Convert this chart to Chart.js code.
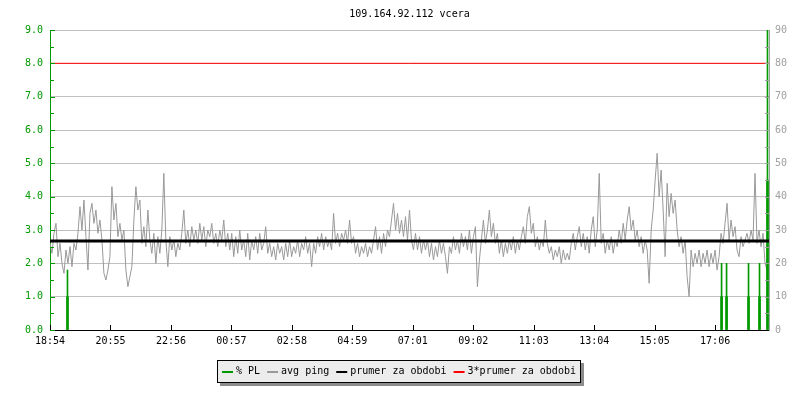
<!DOCTYPE html>
<html>
<head>
<meta charset="utf-8">
<script src="https://cdn.jsdelivr.net/npm/chart.js@4/dist/chart.umd.min.js"></script>
<style>
  html, body { margin: 0; padding: 0; background: #fff; }
</style>
</head>
<body>
<canvas id="graf" width="800" height="400"></canvas>
<script>
// ---------- data
var titleText = '109.164.92.112 vcera';
var tickLabels = ['18:54','20:55','22:56','00:57','02:58','04:59','07:01','09:02','11:03','13:04','15:05','17:06'];
var tickStepMin = 121.1;      // minutes between time labels
var sampleStepMin = 4;        // minutes between ping samples
var spanMin = 1440;

// avg ping, one value every 4 minutes from 18:54
var pingAvg = [
  2.6,2.3,2.9,3.2,2.2,2.6,2.0,1.7,2.4,2.0, 2.5,1.9,2.6,2.4,2.9,3.7,3.0,3.9,2.8,1.8,
  3.5,3.8,3.2,3.6,2.9,3.3,2.7,1.7,1.5,1.8, 2.2,4.3,3.3,3.8,2.8,3.2,2.7,3.0,1.8,1.3,
  1.6,1.9,3.3,4.3,3.6,3.9,2.6,3.1,2.5,3.6, 2.7,2.3,2.9,2.0,2.8,2.3,3.0,4.7,2.7,1.9,
  2.8,2.4,2.7,2.2,2.6,2.4,2.9,3.6,2.6,3.0, 2.5,3.1,2.7,3.0,2.6,3.2,2.7,3.1,2.5,3.0,
  2.8,3.2,2.6,2.9,2.5,3.0,2.7,3.3,2.5,2.9, 2.4,2.9,2.2,2.8,2.3,3.0,2.4,2.7,2.2,2.9,
  2.1,2.7,2.4,2.8,2.3,2.9,2.4,2.6,3.1,2.3, 2.6,2.2,2.5,2.1,2.6,2.3,2.5,2.1,2.6,2.2,
  2.7,2.2,2.5,2.3,2.7,2.2,2.6,2.4,2.8,2.3, 2.6,1.9,2.6,2.3,2.8,2.5,2.9,2.4,2.8,2.5,
  2.7,2.4,3.5,2.6,2.9,2.5,2.9,2.7,3.0,2.6, 3.3,2.6,2.8,2.3,2.6,2.2,2.5,2.3,2.6,2.2,
  2.5,2.3,2.7,3.1,2.4,2.8,2.3,2.9,2.5,3.0, 2.8,3.3,3.8,3.0,3.5,2.9,3.3,2.8,3.4,2.7,
  3.6,2.7,2.4,2.9,2.4,2.8,2.3,2.7,2.4,2.7, 2.2,2.6,2.1,2.5,2.2,2.7,2.3,2.6,2.2,1.7,
  2.5,2.3,2.8,2.4,2.7,2.3,2.9,2.5,2.8,2.4, 3.0,2.3,2.8,3.1,1.3,2.1,2.7,3.3,2.6,3.0,
  3.6,2.8,3.2,2.6,2.9,2.3,2.7,2.2,2.6,2.3, 2.7,2.4,2.8,2.3,2.7,2.4,2.8,3.1,2.6,3.4,
  3.7,2.9,3.2,2.5,2.8,2.4,2.7,2.5,3.3,2.6, 2.3,2.5,2.1,2.4,2.2,2.5,2.0,2.4,2.1,2.3,
  2.1,2.6,2.9,2.4,2.8,3.1,2.5,2.9,2.4,2.8, 2.3,3.0,3.4,2.5,3.0,4.7,2.6,2.9,2.3,2.7,
  2.4,2.8,2.3,2.7,2.5,3.0,2.6,3.2,2.7,3.3, 3.7,3.0,3.3,2.7,3.0,2.5,2.8,2.3,2.7,2.4,
  1.4,3.0,3.6,4.5,5.3,4.0,4.8,3.6,2.2,4.4, 3.4,4.1,3.5,3.9,3.0,2.5,2.8,2.3,2.7,1.6,
  1.0,2.4,1.9,2.3,2.0,2.4,1.9,2.3,2.0,2.4, 1.9,2.3,2.0,2.4,1.8,2.2,2.9,2.6,3.2,3.8,
  2.7,3.3,2.8,3.1,2.4,2.2,2.8,2.5,2.7,2.9, 2.6,3.0,2.7,4.7,2.6,3.0,2.5,2.9,2.0,1.8
];

// packet loss (%), right axis
var plTimes = [35, 1345, 1355, 1399, 1421, 1437];
var plMax   = [18, 20, 20, 20, 20, 90];
var plAvg   = [10, 10, 10, 10, 10, 45];

var meanPing = 2.67;
var tripleMean = 8.0;

// ---------- chart
var GREEN = '#009900', GREY = '#999999', AXGREY = '#a0a0a0';
Chart.defaults.font.family = '"DejaVu Sans Mono", monospace';
Chart.defaults.font.size = 10;

function pts(times, vals) { return vals.map(function (v, i) { return { x: times[i], y: v }; }); }
var pingPts = pingAvg.map(function (v, i) { return { x: i * sampleStepMin, y: v }; });

var titlePlugin = {
  id: 'titulek',
  afterDraw: function (chart) {
    var ctx = chart.ctx, a = chart.chartArea;
    ctx.save();
    ctx.font = '10px "DejaVu Sans Mono"';
    ctx.fillStyle = '#000';
    ctx.textAlign = 'center';
    ctx.textBaseline = 'middle';
    ctx.fillText(titleText, (a.left + a.right) / 2, 14);
    ctx.restore();
  }
};

// small inward tick marks like the original rrd-ish graph
var ticksPlugin = {
  id: 'tiky',
  afterDatasetsDraw: function (chart) {
    var ctx = chart.ctx, a = chart.chartArea;
    var y = chart.scales.y, y2 = chart.scales.y2, x = chart.scales.x;
    ctx.save();
    ctx.lineWidth = 1;
    ctx.strokeStyle = GREEN;
    for (var v = 0; v <= 9; v += 0.5) {
      var py = Math.round(y.getPixelForValue(v)) + 0.5;
      ctx.beginPath(); ctx.moveTo(a.left, py); ctx.lineTo(a.left + (v % 1 ? 4 : 5), py); ctx.stroke();
    }
    ctx.strokeStyle = AXGREY;
    for (var w = 5; w < 90; w += 5) {
      var qy = Math.round(y2.getPixelForValue(w)) + 0.5;
      ctx.beginPath(); ctx.moveTo(a.right - 4, qy); ctx.lineTo(a.right, qy); ctx.stroke();
    }
    ctx.strokeStyle = '#000';
    x.ticks.forEach(function (t) {
      var px = Math.round(x.getPixelForValue(t.value)) + 0.5;
      ctx.beginPath(); ctx.moveTo(px, a.bottom); ctx.lineTo(px, a.bottom - 5); ctx.stroke();
    });
    ctx.restore();
  }
};

var legendPlugin = {
  id: 'legendaBox',
  afterDraw: function (chart) {
    var ctx = chart.ctx;
    var items = chart.data.datasets.filter(function (d) { return d.inLegend; });
    ctx.save();
    ctx.font = '10px "DejaVu Sans Mono"';
    var markW = 11, gap = 3, itemGap = 7, pad = 5;
    var w = 0;
    items.forEach(function (d, i) { w += markW + gap + ctx.measureText(d.label).width + (i ? itemGap : 0); });
    var boxW = Math.round(w + pad * 2), boxH = 23;
    var left = Math.round(399 - boxW / 2), top = 360;
    ctx.fillStyle = '#8c8c8c';
    ctx.fillRect(left + 3, top + 3, boxW, boxH);
    ctx.fillStyle = '#ececec';
    ctx.fillRect(left, top, boxW, boxH);
    ctx.strokeStyle = '#000';
    ctx.lineWidth = 1;
    ctx.strokeRect(left + 0.5, top + 0.5, boxW - 1, boxH - 1);
    var cx = left + pad, cy = top + 11;
    items.forEach(function (d) {
      ctx.fillStyle = d.legendColor;
      ctx.fillRect(cx, cy, markW, 2);
      cx += markW + gap;
      ctx.fillStyle = '#000';
      ctx.textBaseline = 'middle';
      ctx.fillText(d.label, cx, cy);
      cx += ctx.measureText(d.label).width + itemGap;
    });
    ctx.restore();
  }
};

var config = {
  type: 'line',
  data: {
    datasets: [{
      type: 'bar', label: '% PL', inLegend: true, legendColor: GREEN,
      data: pts(plTimes, plAvg), yAxisID: 'y2',
      backgroundColor: GREEN, borderWidth: 0, barThickness: 2, grouped: false, order: 2
    }, {
      type: 'bar', label: '% PL max',
      data: pts(plTimes, plMax), yAxisID: 'y2',
      backgroundColor: GREEN, borderWidth: 0, barThickness: 1, grouped: false, order: 3
    }, {
      label: 'avg ping', inLegend: true, legendColor: GREY,
      data: pingPts, yAxisID: 'y',
      borderColor: GREY, borderWidth: 1, pointRadius: 0, tension: 0, fill: false, order: 4
    }, {
      label: 'prumer za obdobi', inLegend: true, legendColor: '#000000',
      data: [{ x: 0, y: meanPing }, { x: spanMin, y: meanPing }], yAxisID: 'y',
      borderColor: '#000000', borderWidth: 3, pointRadius: 0, fill: false, order: 0
    }, {
      label: '3*prumer za obdobi', inLegend: true, legendColor: '#ff0000',
      data: [{ x: 0, y: tripleMean }, { x: spanMin, y: tripleMean }], yAxisID: 'y',
      borderColor: '#ff0000', borderWidth: 1, pointRadius: 0, fill: false, order: 1
    }]
  },
  options: {
    responsive: false,
    animation: false,
    devicePixelRatio: 1,
    layout: { padding: { top: 30, left: 0, right: 0, bottom: 0 } },
    plugins: { legend: { display: false }, tooltip: { enabled: false }, title: { display: false } },
    scales: {
      x: {
        type: 'linear', position: 'bottom', min: 0, max: spanMin, offset: false,
        grid: { display: false, drawTicks: false, offset: false },
        border: { color: '#000', width: 1 },
        ticks: {
          color: '#000', padding: 5, autoSkip: false, maxRotation: 0,
          callback: function (v, i) { return tickLabels[i]; }
        },
        afterBuildTicks: function (s) {
          s.ticks = tickLabels.map(function (t, i) { return { value: i * tickStepMin }; });
        },
        afterFit: function (s) { s.height = 70; }
      },
      y: {
        position: 'left', min: 0, max: 9,
        grid: {
          drawTicks: false,
          color: function (c) { return c.tick && c.tick.value === 0 ? 'rgba(0,0,0,0)' : '#c0c0c0'; }
        },
        border: { color: GREEN, width: 1 },
        ticks: {
          stepSize: 1, color: GREEN, padding: 7,
          callback: function (v) { return v.toFixed(1); }
        },
        afterFit: function (s) { s.width = 50; }
      },
      y2: {
        position: 'right', min: 0, max: 90,
        grid: { drawOnChartArea: false, drawTicks: false },
        border: { color: AXGREY, width: 1 },
        ticks: { stepSize: 10, color: AXGREY, padding: 6 },
        afterFit: function (s) { s.width = 31; }
      }
    }
  },
  plugins: [titlePlugin, ticksPlugin, legendPlugin]
};

var ctx = document.getElementById('graf').getContext('2d');
window.grafPing = new Chart(ctx, config);
</script>
</body>
</html>
